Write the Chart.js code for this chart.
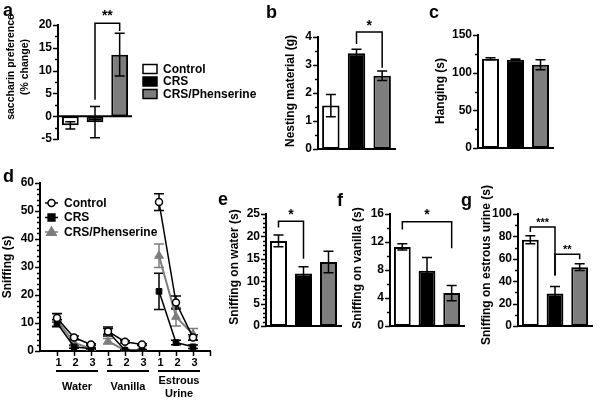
<!DOCTYPE html>
<html><head><meta charset="utf-8">
<script src="https://cdn.jsdelivr.net/npm/chart.js@4.4.0/dist/chart.umd.min.js"></script>
<style>
html,body{margin:0;padding:0;background:#fff;width:600px;height:401px;overflow:hidden;font-family:"Liberation Sans",Arial,sans-serif}
canvas{position:absolute;left:0;top:0;width:600px;height:401px}
.lab{position:absolute;font-weight:bold;font-size:18px;line-height:18px;color:#000}
</style></head><body>
<canvas id="ca" width="600" height="401"></canvas>
<canvas id="cb" width="600" height="401"></canvas>
<canvas id="cc" width="600" height="401"></canvas>
<canvas id="cd" width="600" height="401"></canvas>
<canvas id="ce" width="600" height="401"></canvas>
<canvas id="cf" width="600" height="401"></canvas>
<canvas id="cg" width="600" height="401"></canvas>
<div class="lab" style="left:3px;top:1px">a</div>
<div class="lab" style="left:266px;top:3px">b</div>
<div class="lab" style="left:429px;top:3px">c</div>
<div class="lab" style="left:3px;top:167px">d</div>
<div class="lab" style="left:218px;top:190px">e</div>
<div class="lab" style="left:337px;top:191px">f</div>
<div class="lab" style="left:461px;top:191px">g</div>
<script>
// ---------- data ----------
const groups = ['Control', 'CRS', 'CRS/Phenserine'];
const groupColors = ['#ffffff', '#000000', '#7d7d7d'];

const saccharinMean = [-2.0, -1.3, 13.5];
const saccharinErr  = [0.8, 3.4, 4.7];

const nestingMean = [1.55, 3.42, 2.62];
const nestingErr  = [0.4, 0.14, 0.17];

const hangingMean = [118.5, 117.0, 110.5];
const hangingErr  = [1.2, 1.0, 6.5];

const waterMean = [19.0, 11.7, 14.3];
const waterErr  = [1.3, 1.5, 2.4];

const vanillaMean = [11.3, 7.9, 4.7];
const vanillaErr  = [0.45, 1.9, 1.1];

const estrousMean = [77, 29, 52.5];
const estrousErr  = [3.5, 6.3, 3.0];

// panel d: trials 1-3 for Water, Vanilla, Estrous Urine
const trialX = [1, 2, 3, 4, 5, 6, 7, 8, 9];
const trialLabels = ['1', '2', '3'];
const odorLabels = [['Water'], ['Vanilla'], ['Estrous', 'Urine']];
const dControl    = [11.8, 4.8, 2.3,  7.0, 3.3, 2.3,  53.2, 17.3, 4.8];
const dControlErr = [1.5, 0.6, 0.3,   1.0, 0.4, 0.3,  3.0, 2.3, 1.0];
const dCRS        = [10.0, 1.5, 0.8,  7.0, 0.3, 0.3,  21.3, 3.0, 1.5];
const dCRSErr     = [1.2, 0.5, 0.3,   1.6, 0.2, 0.2,  6.5, 0.8, 0.6];
const dPhen       = [11.0, 3.0, 0.8,  3.5, 0.2, 0.3,  34.0, 12.2, 6.0];
const dPhenErr    = [2.5, 0.8, 0.4,   1.0, 0.2, 0.2,  4.2, 3.3, 2.0];

// ---------- setup ----------
const FONT = '"Liberation Sans", Arial, sans-serif';
Chart.defaults.font.family = FONT;
Chart.defaults.font.weight = 'bold';
Chart.defaults.font.size = 12;
Chart.defaults.color = '#000';

function drawMarker(ctx, style, x, y, r, fill, stroke) {
  ctx.save();
  ctx.fillStyle = fill; ctx.strokeStyle = stroke; ctx.lineWidth = 1.5;
  ctx.beginPath();
  if (style === 'circle') { ctx.arc(x, y, r, 0, Math.PI * 2); }
  else if (style === 'rect') { ctx.rect(x - r * 0.85, y - r * 0.85, r * 1.7, r * 1.7); }
  else { ctx.moveTo(x, y - r); ctx.lineTo(x + r * 0.95, y + r * 0.65); ctx.lineTo(x - r * 0.95, y + r * 0.65); ctx.closePath(); }
  ctx.fill(); ctx.stroke();
  ctx.restore();
}

function drawErrors(chart, list) {
  const ctx = chart.ctx, xs = chart.scales.x, ys = chart.scales.y;
  (list || []).forEach(e => {
    ctx.save();
    ctx.strokeStyle = e.color || '#000';
    ctx.lineWidth = 1.5;
    e.mean.forEach((m, i) => {
      const er = e.err[i];
      if (er == null) return;
      const x = xs.getPixelForValue(e.x[i]);
      const y1 = ys.getPixelForValue(m - er), y2 = ys.getPixelForValue(m + er);
      const c = e.cap || 5;
      ctx.beginPath();
      ctx.moveTo(x, y1); ctx.lineTo(x, y2);
      ctx.moveTo(x - c, y1); ctx.lineTo(x + c, y1);
      ctx.moveTo(x - c, y2); ctx.lineTo(x + c, y2);
      ctx.stroke();
    });
    ctx.restore();
  });
}

const decor = {
  id: 'decor',
  beforeDatasetsDraw(chart, args, o) { drawErrors(chart, o.errorsBelow); },
  afterDatasetsDraw(chart, args, o) { drawErrors(chart, o.errors); },
  afterDraw(chart, args, o) {
    const ctx = chart.ctx, xs = chart.scales.x, ys = chart.scales.y, ca = chart.chartArea;
    ctx.save();
    ctx.strokeStyle = '#000'; ctx.fillStyle = '#000'; ctx.lineWidth = 1.5;
    // y ticks (major + minor)
    const yMin = ys.min, yMax = ys.max;
    for (let v = yMin; v <= yMax + 1e-9; v += o.minor) {
      const y = Math.round(ys.getPixelForValue(v)) + 0.5;
      const r = v / o.major, isMajor = Math.abs(r - Math.round(r)) < 1e-6;
      ctx.beginPath(); ctx.moveTo(ca.left - (isMajor ? 5 : 3), y); ctx.lineTo(ca.left, y); ctx.stroke();
    }
    // zero line
    if (o.zeroLine) {
      const y = ys.getPixelForValue(0);
      ctx.lineWidth = 2;
      ctx.beginPath(); ctx.moveTo(ca.left - 1, y); ctx.lineTo(ca.right, y); ctx.stroke();
      ctx.lineWidth = 1.5;
    }
    // x tick marks
    (o.xTicks || []).forEach(v => {
      const x = Math.round(xs.getPixelForValue(v)) + 0.5;
      ctx.beginPath(); ctx.moveTo(x, ca.bottom); ctx.lineTo(x, ca.bottom + 5); ctx.stroke();
    });
    // brackets
    (o.brackets || []).forEach(b => {
      const x1 = xs.getPixelForValue(b.i1), x2 = xs.getPixelForValue(b.i2);
      const yt = ys.getPixelForValue(b.top), yl = ys.getPixelForValue(b.l), yr = ys.getPixelForValue(b.r);
      ctx.lineWidth = 1.5;
      ctx.beginPath(); ctx.moveTo(x1, yl); ctx.lineTo(x1, yt); ctx.lineTo(x2, yt); ctx.lineTo(x2, yr); ctx.stroke();
      ctx.font = 'bold ' + b.size + 'px ' + FONT;
      ctx.textAlign = 'center'; ctx.textBaseline = 'alphabetic';
      ctx.fillText(b.text, (x1 + x2) / 2, yt - b.off + 0.57 * b.size);
    });
    // axis titles
    (o.titles || []).forEach(t => {
      ctx.save();
      ctx.translate(t.x, t.y); ctx.rotate(-Math.PI / 2);
      ctx.font = 'bold ' + t.size + 'px ' + FONT;
      ctx.textAlign = 'center'; ctx.textBaseline = 'middle';
      ctx.fillText(t.text, 0, 0);
      ctx.restore();
    });
    // box legend
    if (o.boxLegend) {
      const L = o.boxLegend;
      L.items.forEach((name, i) => {
        const y = L.y + i * L.dy;
        ctx.fillStyle = L.colors[i];
        ctx.fillRect(L.x, y - 4.5, 14, 9);
        ctx.lineWidth = 1.5; ctx.strokeStyle = '#000';
        ctx.strokeRect(L.x, y - 4.5, 14, 9);
        ctx.fillStyle = '#000';
        ctx.font = 'bold 12px ' + FONT; ctx.textAlign = 'left'; ctx.textBaseline = 'middle';
        ctx.fillText(name, L.x + 20, y + 0.5);
      });
    }
    // line legend
    if (o.lineLegend) {
      const L = o.lineLegend;
      chart.data.datasets.forEach((ds, i) => {
        const y = L.y + i * L.dy;
        ctx.strokeStyle = ds.borderColor; ctx.lineWidth = 1.5;
        ctx.beginPath(); ctx.moveTo(L.x, y); ctx.lineTo(L.x + 13, y); ctx.stroke();
        drawMarker(ctx, ds.pointStyle, L.x + 6.5, y, ds.pointRadius, ds.pointBackgroundColor, ds.pointBorderColor);
        ctx.fillStyle = '#000';
        ctx.font = 'bold 12px ' + FONT; ctx.textAlign = 'left'; ctx.textBaseline = 'middle';
        ctx.fillText(ds.label, L.x + 19, y + 0.5);
      });
    }
    // trial labels + group labels (panel d)
    if (o.groupLabels) {
      const G = o.groupLabels;
      ctx.fillStyle = '#000';
      ctx.font = 'bold 11px ' + FONT; ctx.textAlign = 'center'; ctx.textBaseline = 'middle';
      G.x.forEach((v, i) => ctx.fillText(G.trial[i % 3], xs.getPixelForValue(v) + 1.5, G.trialY));
      G.names.forEach((lines, g) => {
        const xa = xs.getPixelForValue(G.x[g * 3]) - 1, xb = xs.getPixelForValue(G.x[g * 3 + 2]) + 7;
        ctx.lineWidth = 2; ctx.strokeStyle = '#000';
        ctx.beginPath(); ctx.moveTo(xa, G.lineY); ctx.lineTo(xb, G.lineY); ctx.stroke();
        const y0 = lines.length === 1 ? G.textY : G.textY - 6;
        lines.forEach((s, k) => ctx.fillText(s, (xa + xb) / 2, y0 + k * 13));
      });
    }
    ctx.restore();
  }
};

function barChart(id, mean, err, area, yMin, yMax, step, minor, extra) {
  extra = extra || {};
  return new Chart(document.getElementById(id), {
    type: 'bar',
    data: {
      labels: groups,
      datasets: [{
        data: mean,
        backgroundColor: groupColors,
        borderColor: '#000',
        borderWidth: 2,
        borderSkipped: false,
        barPercentage: 0.68,
        categoryPercentage: 1
      }]
    },
    options: {
      responsive: false, animation: false, events: [],
      layout: { padding: { left: 0, top: area.top, right: 600 - area.right, bottom: 401 - area.bottom } },
      plugins: {
        legend: { display: false }, tooltip: { enabled: false },
        decor: Object.assign({
          minor: minor, major: step,
          errors: [{ x: [0, 1, 2], mean: mean, err: err, cap: 5 }]
        }, extra)
      },
      scales: {
        x: {
          display: !extra.zeroLine,
          grid: { display: false, drawTicks: false },
          ticks: { display: false },
          border: { display: true, color: '#000', width: 2 },
          afterFit(s) { s.height = 0; }
        },
        y: {
          min: yMin, max: yMax,
          ticks: { stepSize: step, padding: 6, font: { size: 12, weight: 'bold' }, color: '#000' },
          grid: { display: false, drawTicks: false },
          border: { display: true, color: '#000', width: 2 },
          afterFit(s) { s.width = area.left; }
        }
      }
    },
    plugins: [decor]
  });
}

// a
barChart('ca', saccharinMean, saccharinErr, { left: 58, top: 25, right: 132, bottom: 139 }, -5, 20, 5, 2.5, {
  zeroLine: true,
  brackets: [{ i1: 1, i2: 2, top: 20.4, l: 3.6, r: 18.7, text: '**', size: 14, off: 11 }],
  titles: [{ text: 'saccharin preference', x: 11, y: 67, size: 10.5 }, { text: '(% change)', x: 25, y: 67, size: 10.5 }],
  boxLegend: { items: groups, colors: groupColors, x: 143, y: 69, dy: 12.5 }
});
// b
barChart('cb', nestingMean, nestingErr, { left: 318, top: 37, right: 395, bottom: 149 }, 0, 4, 1, 0.5, {
  brackets: [{ i1: 1, i2: 2, top: 4.18, l: 3.75, r: 2.9, text: '*', size: 14, off: 10 }],
  titles: [{ text: 'Nesting material (g)', x: 291, y: 91, size: 12 }]
});
// c
barChart('cc', hangingMean, hangingErr, { left: 478, top: 35, right: 553, bottom: 148 }, 0, 150, 50, 25, {
  titles: [{ text: 'Hanging (s)', x: 441, y: 91, size: 12 }]
});
// e
barChart('ce', waterMean, waterErr, { left: 266, top: 214, right: 341, bottom: 326 }, 0, 25, 5, 1, {
  brackets: [{ i1: 0, i2: 1, top: 23.4, l: 22.0, r: 15.0, text: '*', size: 14, off: 10.5 }],
  titles: [{ text: 'Sniffing on water (s)', x: 235, y: 267, size: 12 }]
});
// f
barChart('cf', vanillaMean, vanillaErr, { left: 390, top: 214, right: 464, bottom: 326 }, 0, 16, 4, 2, {
  brackets: [{ i1: 0, i2: 2, top: 14.9, l: 13.8, r: 11.1, text: '*', size: 14, off: 10.5 }],
  titles: [{ text: 'Sniffing on vanilla (s)', x: 358, y: 268, size: 12 }]
});
// g
barChart('cg', estrousMean, estrousErr, { left: 518, top: 214, right: 592, bottom: 326 }, 0, 100, 20, 10, {
  brackets: [
    { i1: 0, i2: 1, top: 88.4, l: 84, r: 45, text: '***', size: 11, off: 7.5 },
    { i1: 1, i2: 2, top: 64, l: 45, r: 59.5, text: '**', size: 11, off: 8 }
  ],
  titles: [{ text: 'Sniffing on estrous urine (s)', x: 487, y: 265, size: 12 }]
});

// d
function pts(arr) {
  const out = [];
  for (let g = 0; g < 3; g++) {
    for (let i = 0; i < 3; i++) out.push({ x: trialX[g * 3 + i], y: arr[g * 3 + i] });
    if (g < 2) out.push({ x: trialX[g * 3 + 2] + 0.5, y: null });
  }
  return out;
}
const dArea = { left: 40, top: 183, right: 210, bottom: 351 };
new Chart(document.getElementById('cd'), {
  type: 'line',
  data: {
    datasets: [
      { label: 'Control', data: pts(dControl), borderColor: '#000', borderWidth: 1.5, pointStyle: 'circle', pointRadius: 3.5,
        pointBackgroundColor: '#fff', pointBorderColor: '#000', pointBorderWidth: 1.5, spanGaps: false },
      { label: 'CRS', data: pts(dCRS), borderColor: '#000', borderWidth: 1.5, pointStyle: 'rect', pointRadius: 4,
        pointBackgroundColor: '#000', pointBorderColor: '#000', pointBorderWidth: 1, spanGaps: false },
      { label: 'CRS/Phenserine', data: pts(dPhen), borderColor: '#7d7d7d', borderWidth: 2, pointStyle: 'triangle', pointRadius: 5,
        pointBackgroundColor: '#7d7d7d', pointBorderColor: '#7d7d7d', pointBorderWidth: 1, spanGaps: false }
    ]
  },
  options: {
    responsive: false, animation: false, events: [],
    layout: { padding: { left: 0, top: dArea.top, right: 600 - dArea.right, bottom: 401 - dArea.bottom } },
    plugins: {
      legend: { display: false }, tooltip: { enabled: false },
      decor: {
        minor: 2, major: 10,
        xTicks: [1, 2, 3, 4, 5, 6, 7, 8, 9, 10],
        errorsBelow: [
          { x: trialX, mean: dPhen, err: dPhenErr, color: '#7d7d7d', cap: 5 },
          { x: trialX, mean: dCRS, err: dCRSErr, color: '#000', cap: 5 },
          { x: trialX, mean: dControl, err: dControlErr, color: '#000', cap: 5 }
        ],
        titles: [{ text: 'Sniffing (s)', x: 8, y: 267, size: 12 }],
        lineLegend: { x: 45, y: 203, dy: 14.5 },
        groupLabels: { names: odorLabels, trial: trialLabels, x: trialX, trialY: 363, lineY: 371, textY: 387 }
      }
    },
    scales: {
      x: {
        type: 'linear', min: 0, max: 10,
        ticks: { display: false, stepSize: 1 },
        grid: { display: false, drawTicks: false },
        border: { display: true, color: '#000', width: 2 },
        afterFit(s) { s.height = 0; }
      },
      y: {
        min: 0, max: 60,
        ticks: { stepSize: 10, padding: 6, font: { size: 12, weight: 'bold' }, color: '#000' },
        grid: { display: false, drawTicks: false },
        border: { display: true, color: '#000', width: 2 },
        afterFit(s) { s.width = dArea.left; }
      }
    }
  },
  plugins: [decor]
});
</script>
</body></html>
